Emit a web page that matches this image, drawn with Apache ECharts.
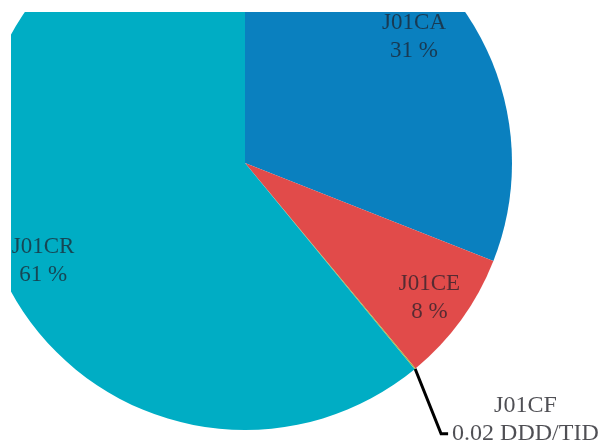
<!DOCTYPE html>
<html>
<head>
<meta charset="utf-8">
<script src="https://cdn.jsdelivr.net/npm/echarts@6/dist/echarts.min.js"></script>
<style>
  html, body { margin: 0; padding: 0; background: #ffffff; }
  #chart { width: 604px; height: 444px; }
</style>
</head>
<body>
<div id="chart"></div>
<script>
// Antibiotic use by ATC group (DDD/TID)
const categories = ['J01CA', 'J01CE', 'J01CF', 'J01CR'];
const values = [9.3, 2.4, 0.02, 18.3];
const unit = 'DDD/TID';
const colors = ['#0a80bf', '#e14b4a', '#a8b83c', '#00adc4'];

// the smallest group is labelled with its value outside the pie
const outsideIndex = 2;

// fine nudges of the inside labels (dx, dy)
const labelNudge = [[-10, -4], [9, 8], [0, 0], [2, 25]];

const textColor = 'rgba(30,30,42,0.72)';
const fontFamily = '"Liberation Serif", "DejaVu Serif", serif';
const pieCenter = [245, 163];
const pieRadius = 267;

const chart = echarts.init(document.getElementById('chart'), null, { renderer: 'canvas' });

const baseData = categories.map((name, i) => ({
  name: name,
  value: values[i],
  itemStyle: { color: colors[i] }
}));

chart.setOption({
  backgroundColor: '#ffffff',
  animation: false,
  series: [
    {
      // filled slices + outside label of the small group
      type: 'pie',
      center: pieCenter,
      radius: [0, pieRadius],
      startAngle: 90,
      clockwise: true,
      avoidLabelOverlap: false,
      itemStyle: { borderWidth: 0 },
      emphasis: { disabled: true },
      data: baseData.map((d, i) => ({
        ...d,
        label: i === outsideIndex ? {
          show: true,
          position: 'outside',
          formatter: p => p.name + '\n' + p.value + ' ' + unit,
          fontFamily: fontFamily,
          fontSize: 24,
          lineHeight: 28,
          color: 'rgba(30,30,36,0.78)'
        } : { show: false },
        labelLine: i === outsideIndex ? {
          show: true,
          length: 60,
          length2: 8,
          lineStyle: { color: '#000000', width: 3 }
        } : { show: false }
      })),
      labelLayout: function (params) {
        if (params.dataIndex !== outsideIndex || !params.labelLinePoints) return {};
        const p0 = params.labelLinePoints[0];
        const p1 = [p0[0] + 26, p0[1] + 65];
        const p2 = [p1[0] + 7, p1[1]];
        return {
          x: p2[0] + 4 + params.labelRect.width / 2,
          y: p2[1] + 14,
          align: 'center',
          verticalAlign: 'bottom',
          labelLinePoints: [p0, p1, p2]
        };
      }
    },
    {
      // transparent ring that carries the percentage labels
      type: 'pie',
      center: pieCenter,
      radius: [pieRadius * 0.6, pieRadius],
      startAngle: 90,
      clockwise: true,
      silent: true,
      avoidLabelOverlap: false,
      z: 5,
      itemStyle: { color: 'rgba(0,0,0,0)', borderWidth: 0 },
      label: {
        show: true,
        position: 'inside',
        formatter: p => p.name + '\n' + Math.round(p.percent) + ' %',
        fontFamily: fontFamily,
        fontSize: 23,
        lineHeight: 28,
        color: textColor
      },
      labelLine: { show: false },
      data: categories.map((name, i) => ({
        name: name,
        value: values[i],
        label: { show: i !== outsideIndex }
      })),
      labelLayout: function (params) {
        const n = labelNudge[params.dataIndex];
        return { dx: n[0], dy: n[1] };
      }
    }
  ],
  graphic: [
    // the drawing area starts a few pixels in from the top and left
    { type: 'rect', left: 0, top: 0, z: 100, shape: { width: 604, height: 12 }, style: { fill: '#ffffff' } },
    { type: 'rect', left: 0, top: 0, z: 100, shape: { width: 11, height: 444 }, style: { fill: '#ffffff' } }
  ]
});
</script>
</body>
</html>
